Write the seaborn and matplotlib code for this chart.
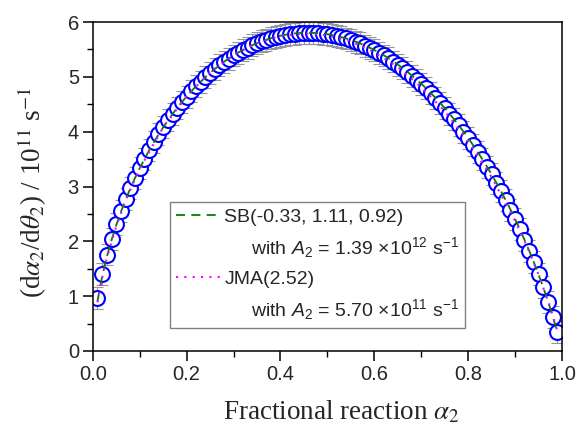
import numpy as np
import matplotlib
matplotlib.use("Agg")
import matplotlib.pyplot as plt
from matplotlib.lines import Line2D
import seaborn as sns

# ---------------- data ----------------
alpha = np.round(np.arange(1, 100) / 100.0, 2)

rate_exp = [0.97, 1.40, 1.76, 2.05, 2.31, 2.55, 2.77, 2.97, 3.16, 3.34,
            3.50, 3.66, 3.81, 3.95, 4.08, 4.21, 4.32, 4.44, 4.54, 4.64,
            4.74, 4.83, 4.91, 4.99, 5.07, 5.14, 5.21, 5.27, 5.33, 5.39,
            5.44, 5.49, 5.53, 5.58, 5.61, 5.65, 5.68, 5.71, 5.73, 5.75,
            5.77, 5.78, 5.79, 5.80, 5.80, 5.80, 5.80, 5.80, 5.79, 5.78,
            5.76, 5.75, 5.72, 5.70, 5.67, 5.64, 5.61, 5.57, 5.53, 5.49,
            5.44, 5.39, 5.34, 5.28, 5.22, 5.16, 5.09, 5.02, 4.95, 4.87,
            4.79, 4.71, 4.62, 4.53, 4.43, 4.33, 4.23, 4.12, 4.00, 3.88,
            3.76, 3.63, 3.50, 3.36, 3.22, 3.07, 2.91, 2.75, 2.58, 2.41,
            2.22, 2.03, 1.83, 1.62, 1.40, 1.16, 0.90, 0.62, 0.35]
rate_err = 0.2

sb_fit = [0.912, 1.365, 1.722, 2.026, 2.296, 2.538, 2.761, 2.966, 3.157, 3.335,
          3.500, 3.659, 3.806, 3.947, 4.079, 4.205, 4.323, 4.436, 4.541, 4.643,
          4.738, 4.829, 4.913, 4.995, 5.071, 5.144, 5.212, 5.277, 5.336, 5.392,
          5.443, 5.492, 5.536, 5.577, 5.614, 5.649, 5.679, 5.706, 5.730, 5.751,
          5.768, 5.782, 5.792, 5.800, 5.803, 5.804, 5.802, 5.798, 5.789, 5.778,
          5.763, 5.745, 5.724, 5.700, 5.673, 5.643, 5.609, 5.573, 5.533, 5.490,
          5.443, 5.394, 5.341, 5.285, 5.225, 5.162, 5.095, 5.025, 4.951, 4.874,
          4.793, 4.708, 4.619, 4.527, 4.431, 4.330, 4.225, 4.116, 4.002, 3.884,
          3.761, 3.633, 3.500, 3.362, 3.218, 3.069, 2.913, 2.751, 2.582, 2.406,
          2.222, 2.030, 1.829, 1.618, 1.395, 1.159, 0.908, 0.638, 0.343]

jma_alpha = [0.01, 0.02, 0.03, 0.05, 0.07, 0.10, 0.15, 0.20, 0.25, 0.30,
             0.35, 0.40, 0.45, 0.50, 0.55, 0.60, 0.65, 0.70, 0.75, 0.80,
             0.85, 0.90, 0.93, 0.95, 0.97, 0.98, 0.99]
jma_fit = [0.887, 1.338, 1.696, 2.275, 2.745, 3.326, 4.080, 4.650, 5.081, 5.399,
           5.618, 5.747, 5.793, 5.758, 5.644, 5.450, 5.177, 4.820, 4.373, 3.828,
           3.170, 2.375, 1.814, 1.392, 0.918, 0.654, 0.361]

sb_label = "SB(-0.33, 1.11, 0.92)"
sb_label2 = "     with $A_2$ = 1.39 $\\times$10$^{12}$ s$^{-1}$"
jma_label = "JMA(2.52)"
jma_label2 = "     with $A_2$ = 5.70 $\\times$10$^{11}$ s$^{-1}$"
xlabel = "Fractional reaction $\\alpha_2$"
ylabel = "(d$\\alpha_2$/d$\\theta_2$) / 10$^{11}$ s$^{-1}$"

# ---------------- style ----------------
sns.set_style("ticks")
plt.rcParams["font.family"] = ["Liberation Sans", "DejaVu Sans"]
plt.rcParams["mathtext.fontset"] = "custom"
plt.rcParams["mathtext.rm"] = "Liberation Sans"
plt.rcParams["mathtext.it"] = "Liberation Sans:italic"
plt.rcParams["mathtext.bf"] = "Liberation Sans:bold"

fig = plt.figure(figsize=(5.8, 4.32), dpi=100)
ax = fig.add_axes([0.160, 0.1875, 0.809, 0.7615])

# error bars (gray, behind)
ax.errorbar(alpha, rate_exp, yerr=rate_err, fmt="none", ecolor="#969696",
            elinewidth=0.8, capsize=4.5, capthick=0.8, zorder=1)

# experimental points
sns.scatterplot(x=alpha, y=rate_exp, ax=ax, marker="o", s=115,
                facecolor="white", edgecolor="#0000ff", linewidth=1.5,
                zorder=2, legend=False)

# fits
sns.lineplot(x=alpha, y=sb_fit, ax=ax, color="#008000", linewidth=1.3,
             zorder=3, legend=False, sort=False)
ax.lines[-1].set_linestyle((0, (5, 3.5)))
sns.lineplot(x=jma_alpha, y=jma_fit, ax=ax, color="#ff00ff", linewidth=1.5,
             zorder=4, legend=False, sort=False)
ax.lines[-1].set_linestyle((0, (1, 3)))

ax.set_xlim(0, 1.0)
ax.set_ylim(0, 6)
ax.set_xticks(np.arange(0, 1.01, 0.2))
ax.set_xticks(np.arange(0, 1.01, 0.1), minor=True)
ax.set_yticks(np.arange(0, 7, 1))
ax.set_yticks(np.arange(0, 6.01, 0.5), minor=True)
ax.set_xticklabels([f"{v:.1f}" for v in np.arange(0, 1.01, 0.2)])
ax.set_yticklabels([f"{v:d}" for v in range(7)])

ax.tick_params(axis="both", which="major", direction="out", length=7,
               width=1.1, labelsize=14.5, color="black", pad=3)
ax.tick_params(axis="both", which="minor", direction="out", length=4,
               width=1.0, color="black")
ax.tick_params(top=False, right=False, which="both")
for sp in ax.spines.values():
    sp.set_visible(True)
    sp.set_linewidth(1.1)
    sp.set_color("black")

ax.set_xlabel(xlabel, fontsize=19.5, fontfamily="Liberation Serif",
              math_fontfamily="stix")
ax.xaxis.set_label_coords(0.529, -0.145)
ax.set_ylabel(ylabel, fontsize=19.5, fontfamily="Liberation Serif",
              math_fontfamily="stix")
ax.yaxis.set_label_coords(-0.094, 0.483)

# legend
h_sb = Line2D([], [], color="#008000", linewidth=1.3, linestyle=(0, (5, 3.5)))
h_jma = Line2D([], [], color="#ff00ff", linewidth=1.5, linestyle=(0, (1, 3)))
h_none = Line2D([], [], color="none", linewidth=0)
leg = ax.legend([h_sb, h_none, h_jma, h_none],
                [sb_label, sb_label2, jma_label, jma_label2],
                loc="lower left", bbox_to_anchor=(0.164, 0.07),
                borderaxespad=0, fontsize=14, handlelength=2.4,
                handletextpad=0.1, labelspacing=0.5, borderpad=0.3,
                fancybox=False, frameon=True, edgecolor="#808080",
                framealpha=1.0)
leg.get_frame().set_linewidth(1.0)

fig.savefig("out.png", dpi=100)
